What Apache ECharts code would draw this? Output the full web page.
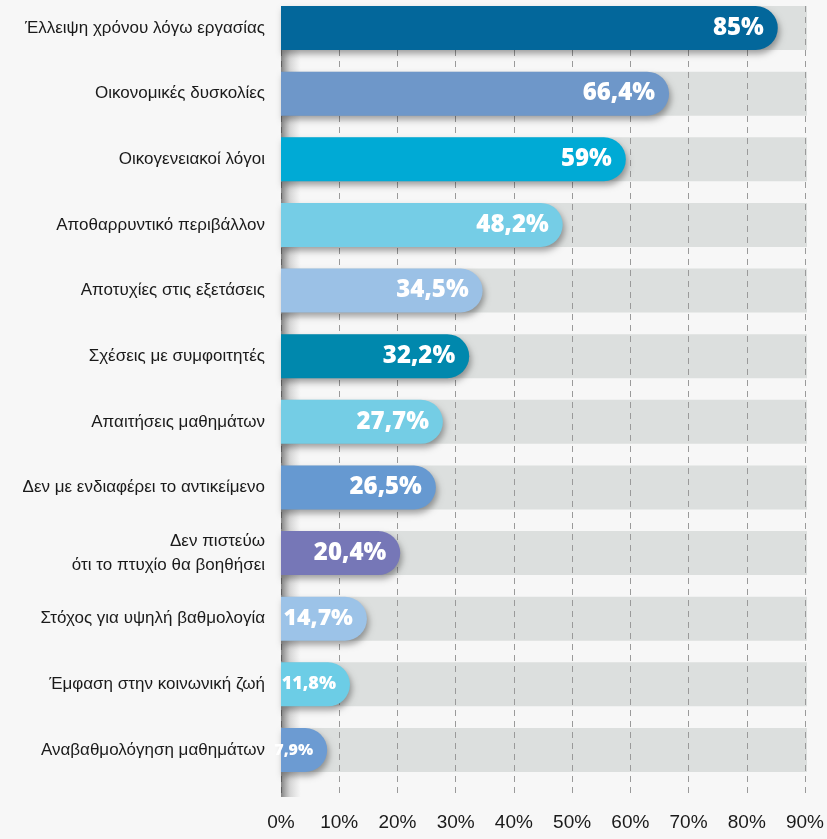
<!DOCTYPE html>
<html>
<head>
<meta charset="utf-8">
<script src="https://cdn.jsdelivr.net/npm/echarts@6/dist/echarts.min.js"></script>
<style>
html,body{margin:0;padding:0;background:#f7f7f7;}
#chart{width:827px;height:839px;}
</style>
</head>
<body>
<div id="chart"></div>
<script>
const categories = [
  'Έλλειψη χρόνου λόγω εργασίας',
  'Οικονομικές δυσκολίες',
  'Οικογενειακοί λόγοι',
  'Αποθαρρυντικό περιβάλλον',
  'Αποτυχίες στις εξετάσεις',
  'Σχέσεις με συμφοιτητές',
  'Απαιτήσεις μαθημάτων',
  'Δεν με ενδιαφέρει το αντικείμενο',
  'Δεν πιστεύω\nότι το πτυχίο θα βοηθήσει',
  'Στόχος για υψηλή βαθμολογία',
  'Έμφαση στην κοινωνική ζωή',
  'Αναβαθμολόγηση μαθημάτων'
];
const values = [85, 66.4, 59, 48.2, 34.5, 32.2, 27.7, 26.5, 20.4, 14.7, 11.8, 7.9];
const axisMax = 90;
const tickInterval = 10;

const barColors = ['#03679b','#6e97c9','#00aad5','#75cde6','#9bc1e6','#0088ad',
                   '#74cde5','#6699d1','#7677b7','#9cc3e8','#6ccde6','#6c9bd2'];
const labelSizes = [24,24,24,24,24,24,24,24,24,23,18,16];

const chart = echarts.init(document.getElementById('chart'), null, {renderer:'canvas'});

const fmt = v => String(v).replace('.', ',') + '%';
const labelFont = 'Liberation Sans, Arial, sans-serif';

chart.setOption({
  backgroundColor: '#f7f7f7',
  animation: false,
  grid: [
    { left: 281, right: 20, top: 28, bottom: 89, containLabel: false },
    { left: 281, right: 20, top: 6, bottom: 42, containLabel: false }
  ],
  xAxis: [
    {
      gridIndex: 0, type: 'value', min: 0, max: axisMax, interval: tickInterval,
      axisLine: { show: false }, axisTick: { show: false },
      splitLine: { show: false }, axisLabel: { show: false }
    },
    {
      gridIndex: 1, type: 'value', min: 0, max: axisMax, interval: tickInterval, z: 1,
      axisLine: { show: false }, axisTick: { show: false },
      splitLine: { show: true, lineStyle: { color: '#9a9a9a', type: [6,5], width: 1 } },
      axisLabel: { formatter: v => v + '%', color: '#1a1a1a', fontSize: 19,
                   fontFamily: labelFont, margin: 16 }
    }
  ],
  yAxis: [
    {
      gridIndex: 0, type: 'category', data: categories, inverse: true, boundaryGap: false,
      axisLine: { show: false }, axisTick: { show: false }, splitLine: { show: false },
      axisLabel: { color: '#1a1a1a', fontSize: 17, margin: 16, lineHeight: 24,
                   fontFamily: labelFont, align: 'right' }
    },
    {
      gridIndex: 1, type: 'value', min: 0, max: 1, show: false
    }
  ],
  series: [
    {
      type: 'bar', xAxisIndex: 0, yAxisIndex: 0, z: 0, barWidth: 44, silent: true,
      data: values.map(() => axisMax),
      itemStyle: { color: '#dcdfde' }
    },
    {
      type: 'bar', xAxisIndex: 0, yAxisIndex: 0, z: 3, barWidth: 44, barGap: '-100%',
      data: values.map((v, i) => ({
        value: v,
        itemStyle: { color: barColors[i] },
        label: { fontSize: labelSizes[i] }
      })),
      itemStyle: {
        borderRadius: [0, 22, 22, 0],
        shadowColor: 'rgba(0,0,0,0.35)', shadowBlur: 6, shadowOffsetX: 2, shadowOffsetY: 4
      },
      label: {
        show: true, position: 'insideRight', distance: 14,
        color: '#ffffff', fontWeight: 800,
        fontFamily: 'Open Sans, sans-serif',
        formatter: p => fmt(p.value)
      }
    },
    {
      type: 'line', xAxisIndex: 1, yAxisIndex: 1, z: 5, silent: true,
      data: [],
      markArea: {
        silent: true,
        itemStyle: {
          color: { type: 'linear', x: 0, y: 0, x2: 1, y2: 0,
            colorStops: [
              { offset: 0, color: 'rgba(50,50,50,0.6)' },
              { offset: 0.45, color: 'rgba(90,90,90,0.22)' },
              { offset: 1, color: 'rgba(120,120,120,0)' }
            ] }
        },
        data: [[{ xAxis: 0, yAxis: 0 }, { xAxis: 3.4, yAxis: 1 }]]
      }
    }
  ]
});
</script>
</body>
</html>
